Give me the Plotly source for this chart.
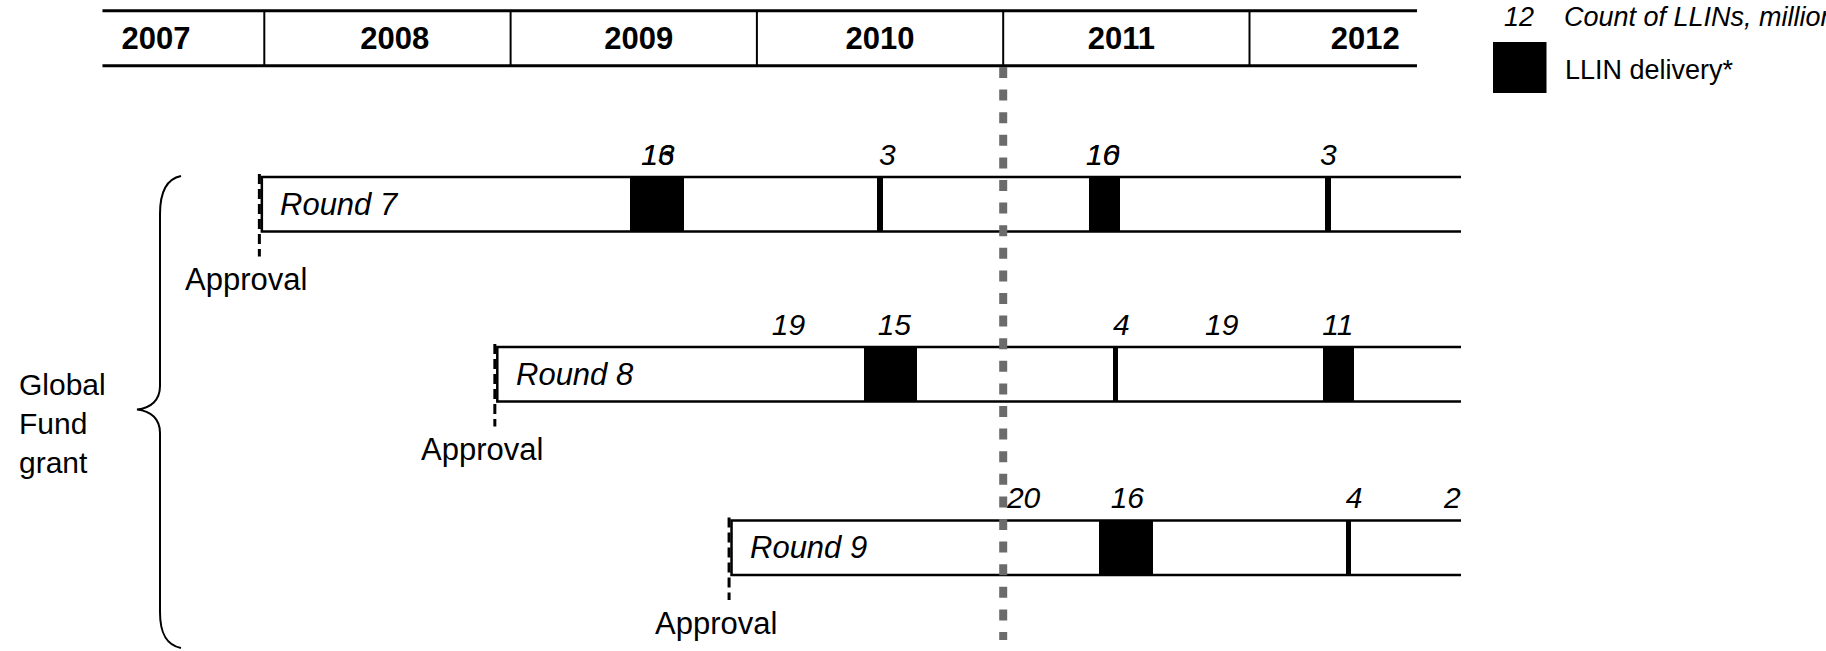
import plotly.graph_objects as go

# ---------------- data ----------------
years = ["2007", "2008", "2009", "2010", "2011", "2012"]
year_label_x = [2007.56, 2008.53, 2009.52, 2010.50, 2011.48, 2012.47]
year_bounds = [2008, 2009, 2010, 2011, 2012]
header_start = 2007.343
header_end = 2012.68

rounds = ["Round 7", "Round 8", "Round 9"]
approval = [2007.98, 2008.936, 2009.887]

r7_label_x = [2009.598, 2009.598, 2010.53, 2011.404, 2011.404, 2012.32]
r7_counts = ["16", "13", "3", "16", "10", "3"]
r7_deliv_start = [2009.486, 2010.489, 2011.348, 2012.305]
r7_deliv_end = [2009.704, 2010.513, 2011.475, 2012.329]

r8_label_x = [2010.128, 2010.558, 2011.48, 2011.887, 2012.359]
r8_counts = ["19", "15", "4", "19", "11"]
r8_deliv_start = [2010.435, 2011.444, 2012.298]
r8_deliv_end = [2010.652, 2011.468, 2012.425]

r9_label_x = [2011.083, 2011.504, 2012.425, 2012.857]
r9_counts = ["20", "16", "4", "20"]
r9_deliv_start = [2011.39, 2012.390]
r9_deliv_end = [2011.608, 2012.414]

today = 2011.0

legend_count_text = "Count of LLINs, million"
legend_count_example = "12"
legend_delivery_text = "LLIN delivery*"
group_label = "Global<br>Fund<br>grant"
approval_text = "Approval"

# ---------------- layout constants ----------------
W, H = 1826, 651
PLOT_W = 1461
PX0, PX_PER_YEAR = 264.3, 246.3          # pixel of 2008.0 and pixels per year


def px2yr(px):
    return 2008 + (px - PX0) / PX_PER_YEAR


x_min, x_max = px2yr(0), px2yr(PLOT_W)
row_top = [177, 347, 520.5]
row_h = 54.5
FONT = "Arial, Liberation Sans, sans-serif"

label_xs = [r7_label_x, r8_label_x, r9_label_x]
counts = [r7_counts, r8_counts, r9_counts]
d_start = [r7_deliv_start, r8_deliv_start, r9_deliv_start]
d_end = [r7_deliv_end, r8_deliv_end, r9_deliv_end]

fig = go.Figure()
shapes = []
annotations = []

# header table
shapes.append(dict(type="line", xref="x", yref="y", x0=header_start, x1=header_end,
                   y0=10.7, y1=10.7, line=dict(color="black", width=3)))
shapes.append(dict(type="line", xref="x", yref="y", x0=header_start, x1=header_end,
                   y0=65.7, y1=65.7, line=dict(color="black", width=3)))
for b in year_bounds:
    shapes.append(dict(type="line", xref="x", yref="y", x0=b, x1=b, y0=10.7, y1=65.7,
                       line=dict(color="black", width=2)))
fig.add_trace(go.Scatter(x=year_label_x, y=[41.5] * len(years), text=years, mode="text",
                         textposition="middle center", cliponaxis=False, hoverinfo="skip",
                         textfont=dict(family=FONT, size=31, color="black", weight="bold"),
                         showlegend=False))

for i, name in enumerate(rounds):
    top = row_top[i]
    bot = top + row_h
    mid = top + row_h / 2
    # grant bar outline
    shapes.append(dict(type="rect", xref="x", yref="y", x0=approval[i] + 0.01, x1=x_max + 1,
                       y0=top, y1=bot, fillcolor="white", layer="below",
                       line=dict(color="black", width=2.5)))
    # approval dashed marker
    shapes.append(dict(type="line", xref="x", yref="y", x0=approval[i], x1=approval[i],
                       y0=top - 3, y1=bot + 25, layer="above",
                       line=dict(color="black", width=3, dash="10px,5px")))
    # deliveries
    fig.add_trace(go.Bar(orientation="h", base=d_start[i],
                         x=[e - s for s, e in zip(d_start[i], d_end[i])],
                         y=[mid] * len(d_start[i]), width=row_h,
                         marker=dict(color="black", line=dict(width=0)),
                         hoverinfo="skip", showlegend=False))
    # counts
    fig.add_trace(go.Scatter(x=label_xs[i], y=[top - 20] * len(counts[i]), text=counts[i],
                             mode="text", textposition="middle center", cliponaxis=True,
                             hoverinfo="skip", showlegend=False,
                             textfont=dict(family=FONT, size=30, color="black", style="italic")))
    annotations.append(dict(xref="x", yref="y", x=approval[i] + 19 / PX_PER_YEAR, y=mid,
                            text=name, showarrow=False, xanchor="left", yanchor="middle",
                            font=dict(family=FONT, size=31, color="black", style="italic")))
    annotations.append(dict(xref="x", yref="y", x=approval[i] - 13 / PX_PER_YEAR, y=bot + 48,
                            text=approval_text, showarrow=False, xanchor="center", yanchor="middle",
                            font=dict(family=FONT, size=31, color="black")))

# today line
shapes.append(dict(type="line", xref="x", yref="y", x0=today, x1=today, y0=67, y1=640,
                   layer="above", line=dict(color="#6b6b6b", width=8, dash="11px,11.6px")))

# brace
bx = lambda p: px2yr(p)
brace = (f"M {bx(181)},176 C {bx(166)},179 {bx(160)},193 {bx(160)},214 "
         f"L {bx(160)},386 C {bx(160)},400 {bx(151)},408 {bx(137)},409.5 "
         f"C {bx(151)},411 {bx(160)},419 {bx(160)},433 "
         f"L {bx(160)},612 C {bx(160)},633 {bx(166)},645 {bx(181)},648")
shapes.append(dict(type="path", xref="x", yref="y", path=brace,
                   line=dict(color="black", width=2)))
annotations.append(dict(xref="x", yref="y", x=px2yr(17), y=423, text=group_label,
                        showarrow=False, xanchor="left", yanchor="middle", align="left",
                        font=dict(family=FONT, size=30, color="black")))

# legend (outside plot area, paper coords)
pxp = lambda p: p / PLOT_W
pyp = lambda p: 1 - p / H
annotations.append(dict(xref="paper", yref="paper", x=pxp(1519), y=pyp(17.5),
                        text=legend_count_example, showarrow=False, xanchor="center", yanchor="middle",
                        font=dict(family=FONT, size=27, color="black", style="italic")))
annotations.append(dict(xref="paper", yref="paper", x=pxp(1562), y=pyp(17.5),
                        text=legend_count_text, showarrow=False, xanchor="left", yanchor="middle",
                        font=dict(family=FONT, size=27, color="black", style="italic")))
shapes.append(dict(type="rect", xref="paper", yref="paper", x0=pxp(1493), x1=pxp(1546.5),
                   y0=pyp(93), y1=pyp(42), fillcolor="black", line=dict(width=0)))
annotations.append(dict(xref="paper", yref="paper", x=pxp(1563), y=pyp(70),
                        text=legend_delivery_text, showarrow=False, xanchor="left", yanchor="middle",
                        font=dict(family=FONT, size=27, color="black")))

fig.update_layout(
    width=W, height=H,
    margin=dict(l=0, r=W - PLOT_W, t=0, b=0, pad=0),
    paper_bgcolor="white", plot_bgcolor="white",
    barmode="overlay", bargap=0,
    xaxis=dict(range=[x_min, x_max], visible=False, showgrid=False, zeroline=False, fixedrange=True),
    yaxis=dict(range=[H, 0], visible=False, showgrid=False, zeroline=False, fixedrange=True),
    shapes=shapes, annotations=annotations, showlegend=False,
)

fig.write_html("out.html", config={"displayModeBar": False},
               post_script="document.body.style.margin='0';document.body.style.overflow='hidden';")
